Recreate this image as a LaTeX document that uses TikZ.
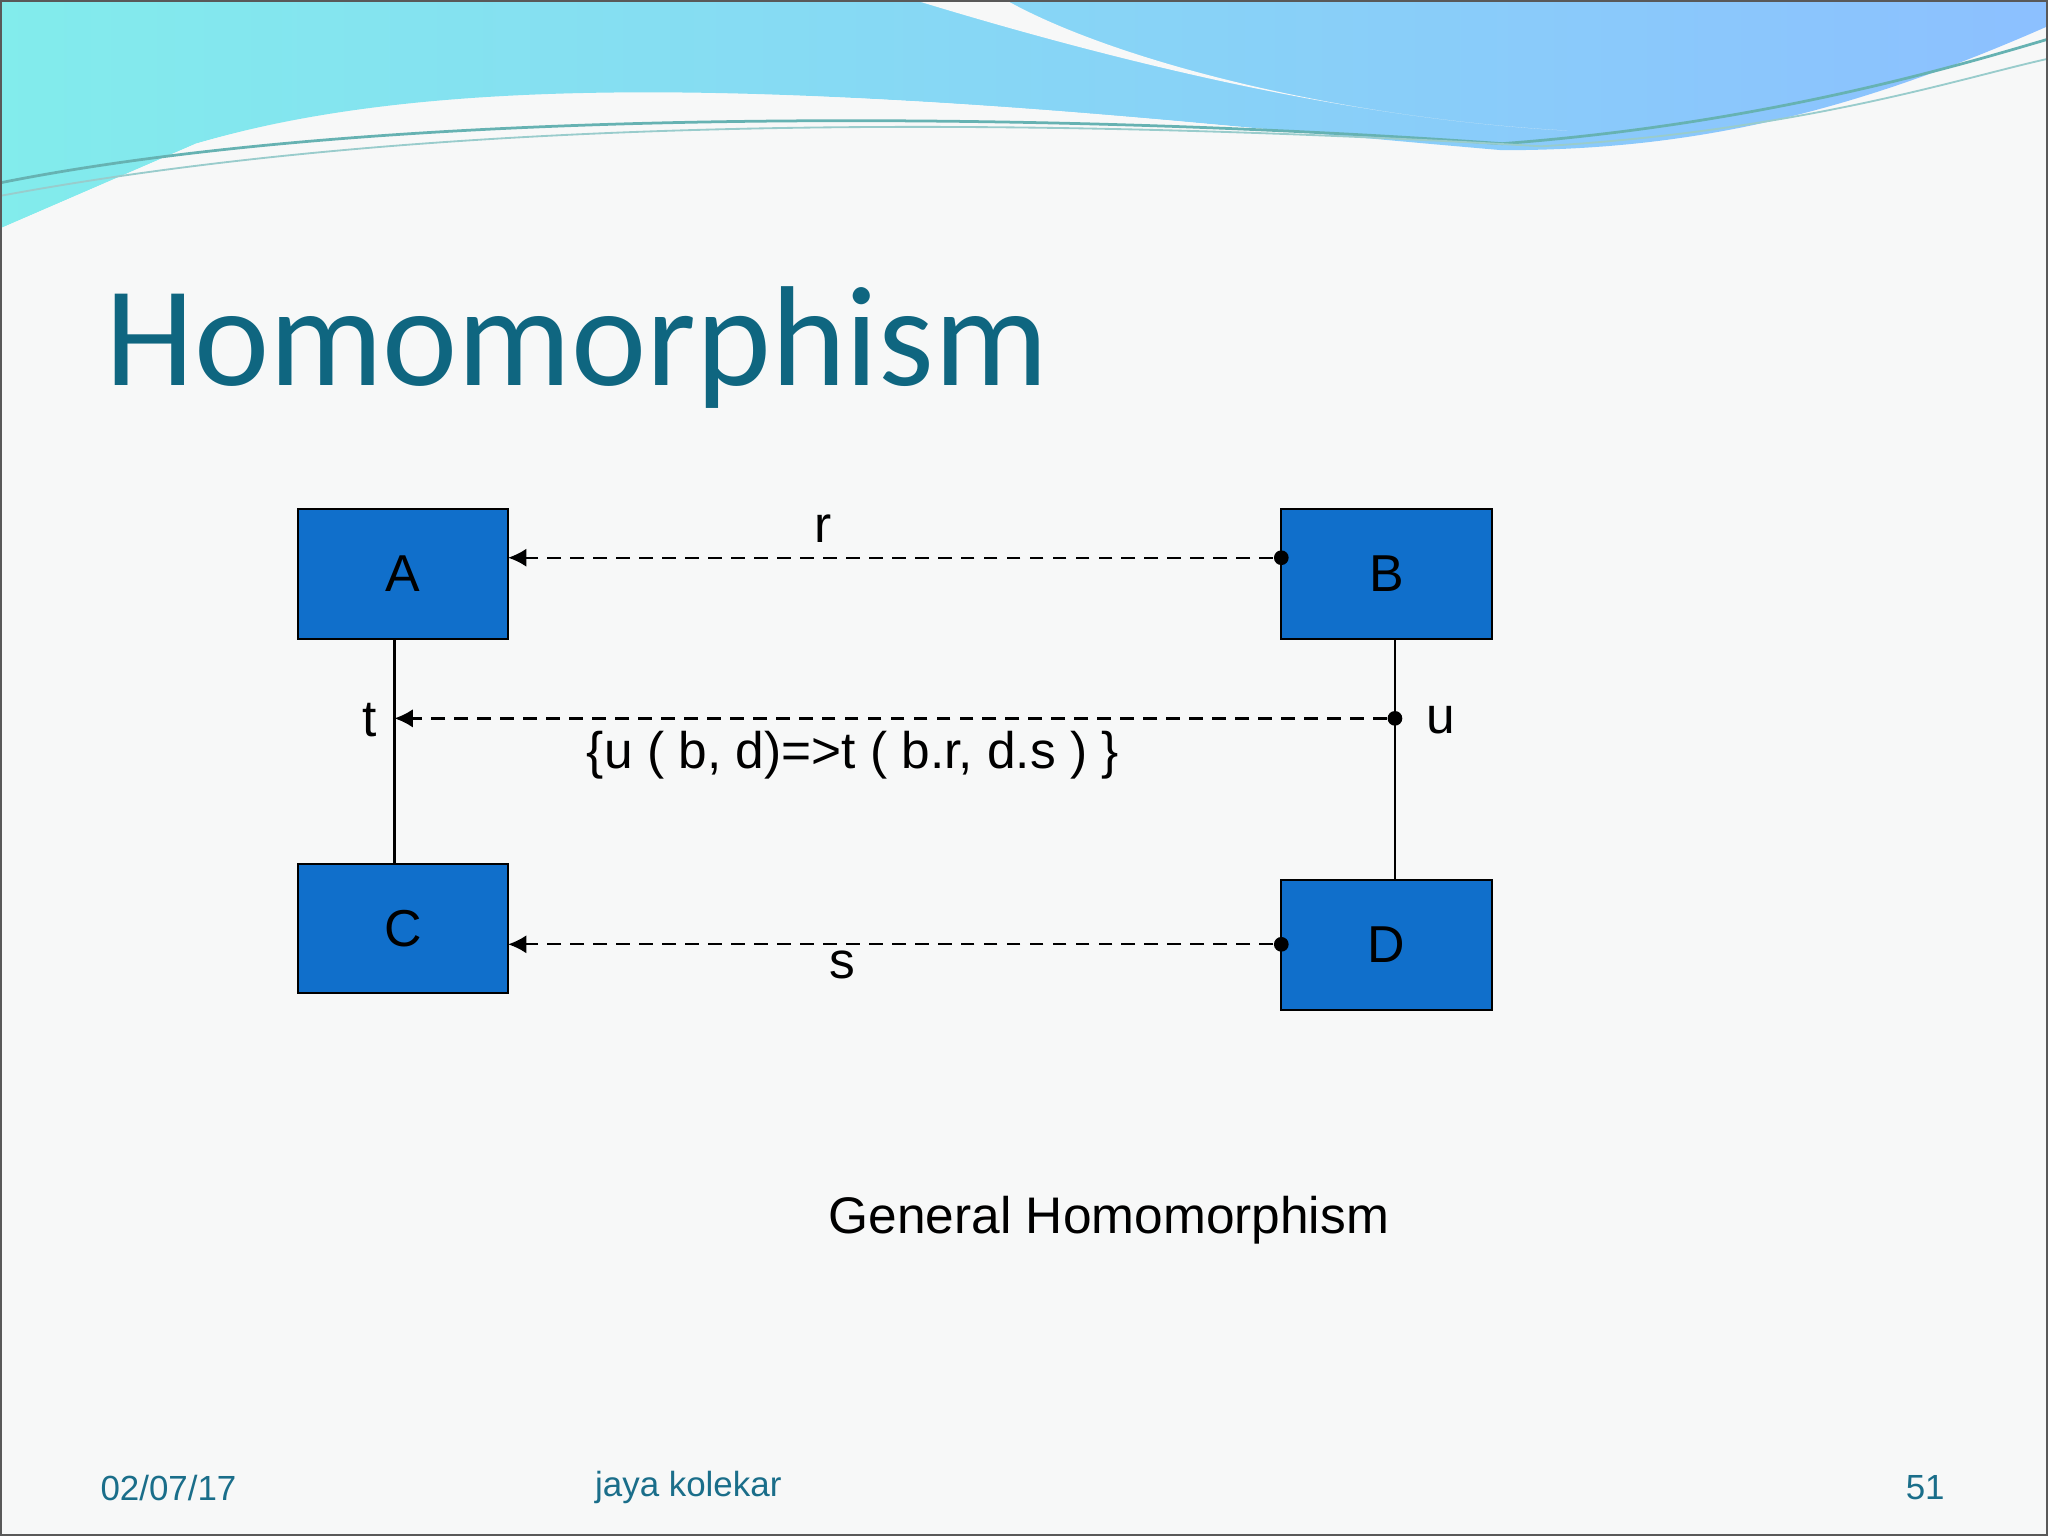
\documentclass[tikz,border=0pt]{standalone}
\usepackage{fontspec}
\setmainfont{Liberation Sans}
\newfontfamily\titlefont{Carlito}
\usetikzlibrary{arrows.meta}
\definecolor{bg}{HTML}{F7F8F8}
\definecolor{boxblue}{HTML}{106FCB}
\definecolor{titlec}{HTML}{0F6680}
\definecolor{footc}{HTML}{1A6E8A}
\begin{document}
\begin{tikzpicture}[x=0.01cm,y=-0.01cm,
  blk/.style={draw=black,fill=boxblue,minimum width=1.61cm,minimum height=0.99cm,font=\fontsize{11.3}{13}\selectfont,inner sep=0pt},
  lbl/.style={font=\fontsize{11.2}{13}\selectfont,inner sep=1pt},
  foot/.style={font=\fontsize{7.6}{9}\selectfont,text=footc},
  darr/.style={densely dashed,line width=0.5pt,-{Latex[length=4pt,width=4pt]}},
  dotc/.style={circle,fill=black,inner sep=0pt,minimum size=3.2pt}]
\useasboundingbox (0,0) rectangle (1568,1176);
\fill[bg] (0,0) rectangle (1568,1176);
% waves
\shade[left color=cyan!40!white!85!teal, right color=cyan!45!blue!45!white]
 (0,0) -- (1568,0) -- (1568,20) .. controls (1420,85) and (1300,115) .. (1150,115)
 .. controls (800,85) and (400,35) .. (150,110) -- (0,175) -- cycle;
\fill[bg] (700,0) .. controls (880,55) and (1050,92) .. (1200,100)
 .. controls (1020,90) and (850,45) .. (770,0) -- cycle;
\fill[bg] (0,175) -- (150,110) .. controls (400,40) and (800,80) .. (1150,118) -- (1150,160) -- (0,200) -- cycle;
\draw[teal!60,line width=0.6pt] (0,140) .. controls (300,80) and (800,85) .. (1150,110) .. controls (1350,95) and (1500,50) .. (1568,30);
\draw[teal!40,line width=0.4pt] (0,150) .. controls (350,85) and (800,90) .. (1180,112) .. controls (1380,100) and (1500,60) .. (1568,45);
\draw[gray!70!black,line width=0.6pt] (0.5,0.5) rectangle (1567.5,1175.5);
% title
\node[anchor=base west,inner sep=0pt,text=titlec,font=\titlefont\fontsize{31}{36}\selectfont] (title) at (80,295) {Homomorphism};
% boxes
\node[blk] (A) at (308.5,439.5) {A};
\node[blk] (B) at (1061.5,439.5) {B};
\node[blk] (C) at (308.5,711) {C};
\node[blk] (D) at (1061.5,723.5) {D};
\coordinate (At) at (302,489); \coordinate (Cb) at (302,662);
\coordinate (Bt) at (1068,489); \coordinate (Db) at (1068,674);
\draw[line width=0.6pt] (At) -- (Cb);
\draw[line width=0.6pt] (Bt) -- (Db);
\node[dotc] (rb) at (981,427) {};
\node[dotc] (ub) at (1068,550) {};
\node[dotc] (sb) at (981,723) {};
\coordinate (ra) at (389,427); \coordinate (ta) at (302,550); \coordinate (sa) at (389,723);
\draw[darr] (rb) -- (ra);
\draw[darr] (ub) -- (ta);
\draw[darr] (sb) -- (sa);
\node[lbl] (r) at (630,405) {r};
\node[lbl] (t) at (283,551) {t};
\node[lbl] (u) at (1103,551) {u};
\node[lbl] (s) at (645,739) {s};
\node[lbl] (eq) at (653,578) {\{u ( b, d)=>t ( b.r, d.s ) \}};
\node[lbl] (gh) at (849,934) {General Homomorphism};
\node[foot] (f1) at (129,1139) {02/07/17};
\node[foot] (f2) at (527,1139) {jaya kolekar};
\node[foot] (f3) at (1474,1139) {51};
\end{tikzpicture}
\end{document}
